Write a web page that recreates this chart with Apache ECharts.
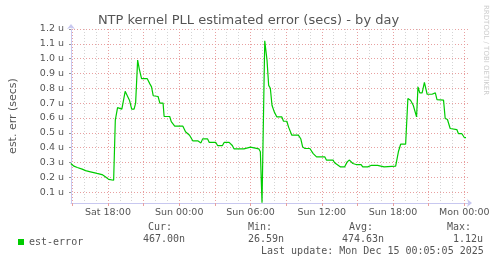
<!DOCTYPE html>
<html>
<head>
<meta charset="utf-8">
<script src="https://cdn.jsdelivr.net/npm/echarts@6/dist/echarts.min.js"></script>
<style>
  html, body { margin: 0; padding: 0; background: #ffffff; }
  #chart { width: 497px; height: 264px; }
</style>
</head>
<body>
<div id="chart"></div>
<script>
  // time in hours counted from Sat 00:00, values in microseconds
  var hours = [
    14.87, 15.14, 15.42, 15.83, 16.12, 16.53, 17.08, 17.5, 17.78, 18.06,
    18.48, 18.62, 18.81, 19.17, 19.31, 19.45, 19.58, 19.81, 20.0, 20.2,
    20.33, 20.42, 20.5, 20.64, 20.83, 21.31, 21.53, 21.67, 21.81, 22.22,
    22.37, 22.64, 22.73, 23.2, 23.33, 23.47, 23.62, 23.89, 24.31, 24.53,
    24.87, 25.14, 25.56, 25.83, 25.97, 26.39, 26.53, 27.08, 27.23, 27.64,
    27.78, 28.2, 28.47, 28.61, 29.45, 29.58, 30.0, 30.14, 30.7, 30.83,
    30.92, 30.97, 31.2, 31.39, 31.53, 31.67, 31.81, 32.0, 32.22, 32.64,
    32.78, 33.06, 33.2, 33.48, 34.03, 34.23, 34.39, 34.58, 35.0, 35.28,
    35.56, 36.25, 36.39, 36.95, 37.08, 37.23, 37.58, 37.92, 38.14, 38.33,
    38.62, 38.89, 39.31, 39.45, 39.87, 40.14, 40.7, 40.83, 41.25, 41.39,
    42.22, 42.28, 42.45, 42.64, 43.06, 43.25, 43.47, 43.7, 43.98, 44.1,
    44.25, 44.45, 44.64, 44.87, 45.28, 45.42, 45.56, 45.7, 46.25, 46.39,
    46.58, 46.81, 46.95, 47.37, 47.5, 47.78, 48.0, 48.14
  ];
  var estError = [
    0.293, 0.275, 0.266, 0.255, 0.245, 0.237, 0.226, 0.218, 0.203, 0.186,
    0.180, 0.585, 0.67, 0.66, 0.657, 0.78, 0.775, 0.72, 0.66, 0.66,
    0.70, 0.70, 0.99, 0.93, 0.865, 0.865, 0.83, 0.81, 0.75, 0.745,
    0.70, 0.70, 0.61, 0.61, 0.575, 0.57, 0.545, 0.545, 0.545, 0.507,
    0.484, 0.446, 0.446, 0.432, 0.459, 0.459, 0.435, 0.435, 0.414, 0.414,
    0.435, 0.435, 0.414, 0.392, 0.392, 0.403, 0.403, 0.392, 0.392, 0.372,
    0.365, 0.028, 1.12, 0.99, 0.82, 0.80, 0.686, 0.641, 0.607, 0.607,
    0.578, 0.578, 0.54, 0.484, 0.484, 0.46, 0.405, 0.394, 0.394, 0.36,
    0.338, 0.338, 0.316, 0.316, 0.298, 0.289, 0.27, 0.27, 0.304, 0.316,
    0.293, 0.286, 0.286, 0.27, 0.27, 0.28, 0.28, 0.27, 0.27, 0.275,
    0.275, 0.27, 0.372, 0.423, 0.423, 0.731, 0.72, 0.686, 0.607, 0.81,
    0.769, 0.769, 0.84, 0.76, 0.76, 0.769, 0.769, 0.724, 0.72, 0.596,
    0.59, 0.529, 0.522, 0.522, 0.495, 0.495, 0.468, 0.467
  ];

  var yTicks = [0.1, 0.2, 0.3, 0.4, 0.5, 0.6, 0.7, 0.8, 0.9, 1.0, 1.1, 1.2];
  var xLabelHours = [18, 24, 30, 36, 42, 48];
  var majorHours = [15, 18, 21, 24, 27, 30, 33, 36, 39, 42, 45, 48];
  var minorHours = [];
  for (var h = 15; h <= 48; h++) minorHours.push(h);
  var dayNames = ["Sat", "Sun", "Mon"];

  var statNames = ["Cur:", "Min:", "Avg:", "Max:"];
  var statValues = ["467.00n", "26.59n", "474.63n", "1.12u"];
  var lastUpdate = "Last update: Mon Dec 15 00:05:05 2025";

  var X_MIN = 14.89, X_MAX = 48.31;
  var FONT = "DejaVu Sans";
  var MONO = "DejaVu Sans Mono";
  var TEXT = "#555555";
  var MAJOR = "#e8a0a0";
  var MINOR = "#d4d4d4";
  var AXIS = "#c8c8f0";

  function hourLabel(v) {
    var d = Math.floor(v / 24);
    var hh = Math.round(v - d * 24);
    return dayNames[d] + " " + (hh < 10 ? "0" : "") + hh + ":00";
  }

  var statHeaderX = [148, 248, 349, 447];
  var statValueX = [143, 248, 342, 453];
  var graphics = [];
  statNames.forEach(function (name, i) {
    graphics.push({
      type: "text", left: statHeaderX[i], top: 222,
      style: { text: name, font: "10px " + MONO, fill: TEXT }
    });
    graphics.push({
      type: "text", left: statValueX[i], top: 234,
      style: { text: statValues[i], font: "10px " + MONO, fill: TEXT }
    });
  });
  graphics.push({
    type: "text", left: 261, top: 246,
    style: { text: lastUpdate, font: "10px " + MONO, fill: TEXT }
  });
  graphics.push({
    type: "text", x: 486, y: 5, rotation: -Math.PI / 2,
    style: { text: "RRDTOOL / TOBI OETIKER", font: "7px " + FONT, fill: "#cccccc",
      textAlign: "left", textVerticalAlign: "middle" }
  });

  var chart = echarts.init(document.getElementById("chart"), null, { renderer: "canvas" });

  chart.setOption({
    backgroundColor: "#ffffff",
    animation: false,
    title: {
      text: "NTP kernel PLL estimated error (secs) - by day",
      left: "center",
      top: 9,
      textStyle: { fontFamily: FONT, fontSize: 13, fontWeight: "normal", color: TEXT }
    },
    legend: {
      data: ["est-error"],
      left: 13,
      top: 232,
      icon: "rect",
      itemWidth: 6,
      itemHeight: 6,
      textStyle: { fontFamily: MONO, fontSize: 10, color: TEXT }
    },
    grid: { left: 67, right: 29, top: 29, bottom: 61, containLabel: false },
    xAxis: [
      {
        type: "value", position: "bottom", min: X_MIN, max: X_MAX,
        axisLine: { show: false },
        axisTick: { show: false, customValues: minorHours },
        axisLabel: { show: false },
        splitLine: { show: true, lineStyle: { color: MINOR, type: [1, 2], width: 1 } }
      },
      {
        type: "value", position: "bottom", min: X_MIN, max: X_MAX,
        axisLine: {
          show: true, onZero: false,
          lineStyle: { color: AXIS, width: 1 },
          symbol: ["none", "arrow"], symbolSize: [6, 5], symbolOffset: [0, 4]
        },
        axisTick: { show: true, customValues: majorHours, length: 3, lineStyle: { color: MAJOR } },
        axisLabel: {
          customValues: xLabelHours,
          formatter: hourLabel,
          fontFamily: FONT, fontSize: 9.5, color: TEXT, margin: 5
        },
        splitLine: { show: true, lineStyle: { color: MAJOR, type: [1, 2], width: 1 } }
      }
    ],
    yAxis: {
      type: "value", min: 0.0266, max: 1.2,
      name: "est. err (secs)",
      nameLocation: "middle",
      nameGap: 52,
      nameTextStyle: { fontFamily: FONT, fontSize: 11, color: TEXT },
      axisLine: {
        show: true, onZero: false,
        lineStyle: { color: AXIS, width: 1 },
        symbol: ["none", "arrow"], symbolSize: [6, 5], symbolOffset: [0, 5]
      },
      axisTick: { show: true, customValues: yTicks, length: 2, lineStyle: { color: "#999999" } },
      axisLabel: {
        customValues: yTicks,
        formatter: function (v) { return v.toFixed(1) + " u"; },
        fontFamily: FONT, fontSize: 9.5, color: TEXT, margin: 7
      },
      splitLine: { show: true, lineStyle: { color: MAJOR, type: [1, 2], width: 1 } }
    },
    series: [
      {
        name: "est-error",
        type: "line",
        xAxisIndex: 1,
        data: hours.map(function (t, i) { return [t, estError[i]]; }),
        showSymbol: false,
        symbol: "none",
        lineStyle: { color: "#00cc00", width: 1.2 },
        itemStyle: { color: "#00cc00" }
      }
    ],
    graphic: graphics
  });
</script>
</body>
</html>
